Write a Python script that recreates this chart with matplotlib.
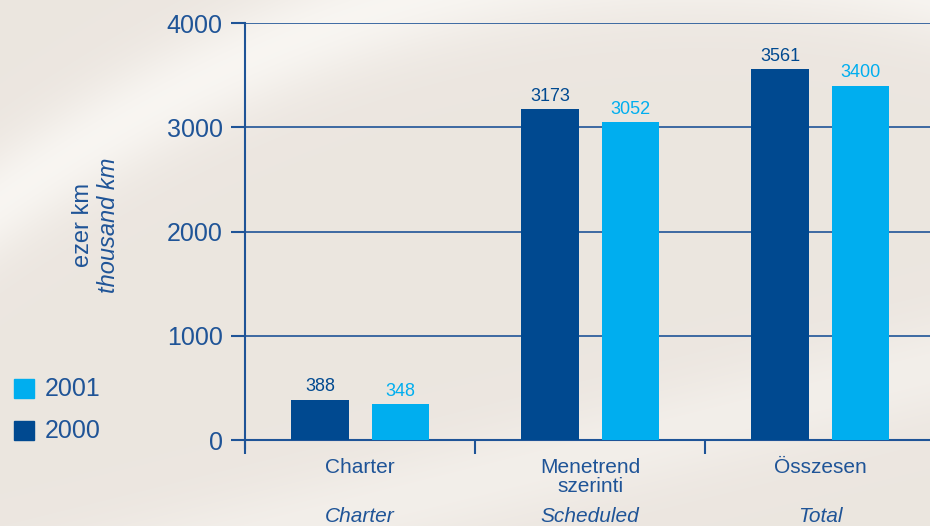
import numpy as np
import matplotlib
matplotlib.use("Agg")
from matplotlib import pyplot as plt

hu_labels = ["Charter", "Menetrend\nszerinti", "Összesen"]
en_labels = ["Charter", "Scheduled", "Total"]
v2000 = [388, 3173, 3561]
v2001 = [348, 3052, 3400]
yticks = [0, 1000, 2000, 3000, 4000]

dark = "#004990"
light = "#00AEEF"
ink = "#1F5497"

plt.rcParams['font.family'] = ['Liberation Sans', 'DejaVu Sans']

fig = plt.figure(figsize=(9.3, 5.26), dpi=100)
fig.patch.set_facecolor("#ECE6DF")

# soft background with a light diagonal sheen
bg = fig.add_axes([0, 0, 1, 1], zorder=-10)
yy, xx = np.mgrid[0:526, 0:930]
band = 0.8 * np.exp(-((yy - (170 - 0.45 * xx + 0.0005 * (xx - 250) ** 2)) / 55.0) ** 2)
band2 = np.exp(-((yy - (600 - 0.25 * xx)) / 50.0) ** 2) * 0.45
shade = np.clip(band + band2, 0, 1)
base = np.array([0.925, 0.902, 0.878])
white = np.array([0.985, 0.978, 0.965])
img = base[None, None, :] * (1 - shade[..., None]) + white[None, None, :] * shade[..., None]
bg.imshow(img, aspect="auto", extent=[0, 1, 0, 1])
bg.axis("off")

ax = fig.add_axes([245 / 930, 86 / 526, 685 / 930, 417 / 526])
ax.patch.set_alpha(0)

x = np.arange(len(hu_labels)) + 0.5
off = 0.174
w = 0.248
ax.bar(x - off, v2000, w, color=dark, zorder=3)
ax.bar(x + off, v2001, w, color=light, zorder=3)
for xi, a, b in zip(x, v2000, v2001):
    ax.text(xi - off, a + 40, str(a), ha="center", va="bottom", color=dark, fontsize=13)
    ax.text(xi + off, b + 40, str(b), ha="center", va="bottom", color=light, fontsize=13)

ax.set_xlim(0, 685 / 230)
ax.set_ylim(0, 4000)
ax.set_yticks(yticks)
ax.set_yticklabels([str(t) for t in yticks], fontsize=18, color=ink)
for t in yticks[1:]:
    ax.axhline(t, color=ink, lw=1.2, zorder=1)
ax.tick_params(axis="y", length=10, width=1.5, color=ink, pad=6)
ax.set_xticks([0, 1, 2])
ax.set_xticklabels([])
ax.tick_params(axis="x", length=10, width=1.5, color=ink)
for s in ["top", "right"]:
    ax.spines[s].set_visible(False)
for s in ["left", "bottom"]:
    ax.spines[s].set_color(ink)
    ax.spines[s].set_linewidth(1.5)
ax.spines["left"].set_bounds(-80, 4000)

for xi, hu, en in zip(x, hu_labels, en_labels):
    t1 = ax.text(xi, -170, hu, ha="center", va="top", color=ink, fontsize=15,
                 linespacing=1.05)
    t2 = ax.text(xi, -640, en, ha="center", va="top", color=ink, fontsize=15,
                 style="italic")
    t1.set_clip_on(False)
    t2.set_clip_on(False)

fig.text(83 / 930, 1 - 225 / 526, "ezer km", rotation=90, ha="center", va="center",
         color=ink, fontsize=17)
fig.text(108 / 930, 1 - 225 / 526, "thousand km", rotation=90, ha="center", va="center",
         color=ink, fontsize=17, style="italic")

fig.patches.append(plt.Rectangle((14 / 930, 1 - 398 / 526), 20 / 930, 19 / 526,
                                 color=light, transform=fig.transFigure))
fig.patches.append(plt.Rectangle((14 / 930, 1 - 440 / 526), 20 / 930, 19 / 526,
                                 color=dark, transform=fig.transFigure))
fig.text(45 / 930, 1 - 389 / 526, "2001", va="center", color=ink, fontsize=18)
fig.text(45 / 930, 1 - 431 / 526, "2000", va="center", color=ink, fontsize=18)

fig.savefig("out.png", dpi=100)
